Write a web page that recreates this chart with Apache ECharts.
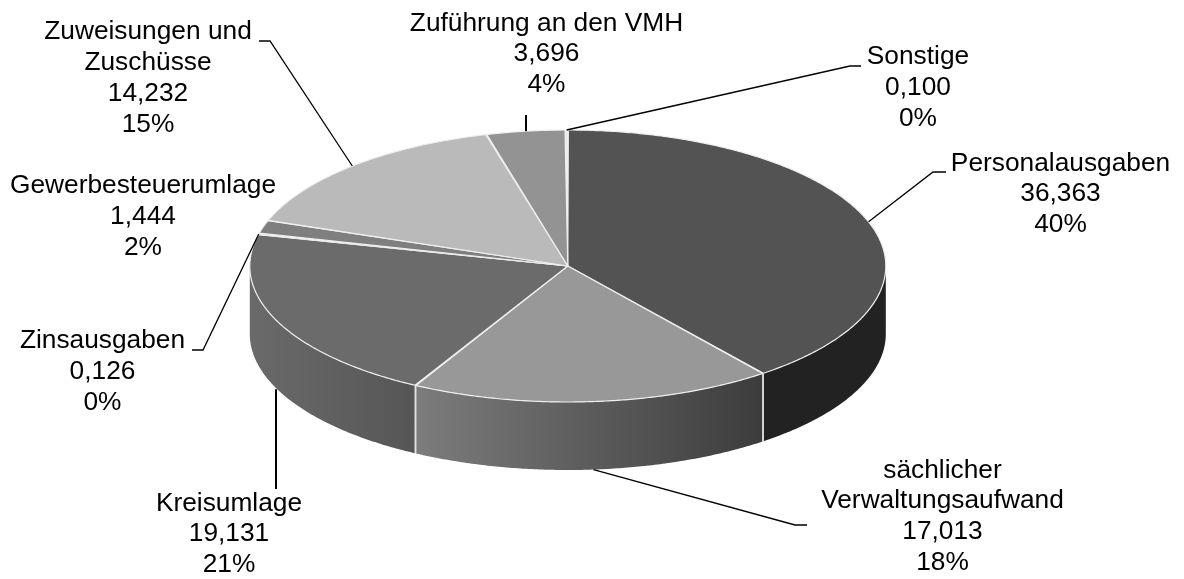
<!DOCTYPE html>
<html><head><meta charset="utf-8">
<style>html,body{margin:0;padding:0;background:#fff}#c{width:1184px;height:579px}</style>
<script src="https://cdn.jsdelivr.net/npm/echarts@6/dist/echarts.min.js"></script>
</head><body><div id="c"></div>
<script>
// Data, clockwise from twelve o'clock
const categories = ['Sonstige','Personalausgaben','sächlicher\nVerwaltungsaufwand','Kreisumlage','Zinsausgaben','Gewerbesteuerumlage','Zuweisungen und\nZuschüsse','Zuführung an den VMH'];
const values = [0.100,36.363,17.013,19.131,0.126,1.444,14.232,3.696];
const valueLabels = ['0,100','36,363','17,013','19,131','0,126','1,444','14,232','3,696'];
const percentLabels = ['0%','40%','18%','21%','0%','2%','15%','4%'];

// Styles
const topColors = ['#e6e6e6','#535353','#989898','#6b6b6b','#7a7a7a','#7f7f7f','#bababa','#939393'];
const sideColors = [null,['#222222','#222222'],['#7c7c7c','#3c3c3c'],['#6a6a6a','#565656'],null,null,null,null];

// Layout of the pie and its callouts
const CX=567.8, CY=266, RX=318, RY=136, DEPTH=68, ROTATION=-0.4, EDGE='#efefef', WALL_EDGE='#d8d8d8';
const labelAnchors = [[918,41.3],[1060.5,148],[942.5,455],[229,488],[102.5,325.6],[143,170.6],[148,16.6],[546.5,8]];
const leaderBends = [[[850,66],[861,66]],[[933,172],[946,172]],[[795,525],[807,525]],[[276,489]],[[203,350],[192,350]],null,[[270,41],[259,41]],[[526,115]]];
const leaderOnRim = [false,false,true,true,false,false,false,false];
const leaderVertical = [false,false,false,true,false,false,false,true];

const total = values.reduce((a,b)=>a+b,0);
const starts = []; let acc = 0;
values.forEach(v=>{starts.push(acc/total*360+ROTATION); acc+=v;});
const pt=(deg,dy)=>{const r=deg*Math.PI/180;return [CX+RX*Math.sin(r),CY-RY*Math.cos(r)+(dy||0)];};
const arc=(a,b,dy)=>{const n=Math.max(2,Math.ceil(Math.abs(b-a)*2));const out=[];for(let i=0;i<=n;i++)out.push(pt(a+(b-a)*i/n,dy));return out;};

function renderItem(params, api){
  const i=params.dataIndex, share=api.value(0)/total*360, a0=starts[i], a1=a0+share;
  const pad=Math.min(0.1,share*0.1), s=a0+pad, e=a1-pad, kids=[];
  // front wall
  const fs=Math.max(s,90), fe=Math.min(e,270);
  if(fe>fs && sideColors[i]){
    const upper=arc(fs,fe,0), lower=arc(fe,fs,DEPTH), xs=upper.map(p=>p[0]);
    const x0=Math.min(...xs), x1=Math.max(...xs), c=sideColors[i];
    kids.push({type:'polygon',shape:{points:upper.concat(lower)},style:{fill:{type:'linear',x:x1,y:0,x2:x0,y2:0,global:true,colorStops:[{offset:0,color:c[1]},{offset:1,color:c[0]}]}},silent:true});
    [s,e].forEach(d=>{ if(d>90&&d<270){const p=pt(d);kids.push({type:'line',shape:{x1:p[0],y1:p[1],x2:p[0],y2:p[1]+DEPTH},style:{stroke:WALL_EDGE,lineWidth:1}});}});
  }
  // top face
  kids.push({type:'polygon',shape:{points:[[CX,CY]].concat(arc(s,e,0))},style:{fill:topColors[i],stroke:EDGE,lineWidth:1.2,lineJoin:'round'}});
  // callout
  const mid=a0+share/2, start=pt(mid,leaderOnRim[i]?DEPTH:0);
  if(leaderBends[i]){
    if(leaderVertical[i]) start[0]=leaderBends[i][0][0];
    kids.push({type:'polyline',z2:5,shape:{points:[start].concat(leaderBends[i])},style:{stroke:'#000',lineWidth:leaderVertical[i]?2:1.3,fill:null}});
  }
  kids.push({type:'text',z2:6,style:{text:categories[i]+'\n'+valueLabels[i]+'\n'+percentLabels[i],x:labelAnchors[i][0],y:labelAnchors[i][1],align:'center',verticalAlign:'top',fontSize:26.3,fontFamily:'"Liberation Sans", Arial, sans-serif',lineHeight:30.8,fill:'#000'}});
  return {type:'group',children:kids};
}
const chart=echarts.init(document.getElementById('c'),null,{renderer:'canvas'});
chart.setOption({animation:false,backgroundColor:'#fff',series:[{type:'custom',coordinateSystem:'none',renderItem,data:values.map(v=>[v]),silent:true}]});
</script></body></html>
